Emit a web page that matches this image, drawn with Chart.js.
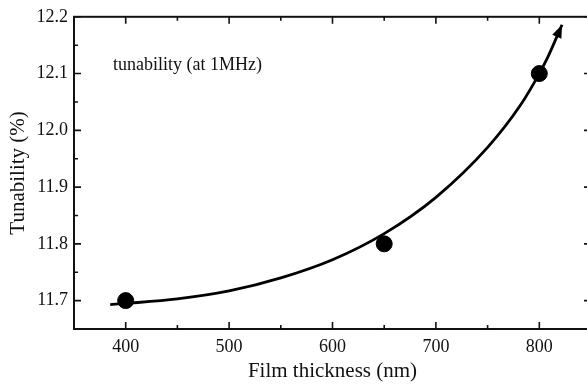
<!DOCTYPE html>
<html lang="en">
<head>
  <meta charset="UTF-8" />
  <title>Tunability vs film thickness</title>
  <script src="https://cdn.jsdelivr.net/npm/chart.js"></script>
  <style>
    html, body {
      margin: 0;
      padding: 0;
      background: #fff;
      overflow: hidden;
    }
    .wrap {
      width: 600px;
      height: 384px;
    }
  </style>
</head>
<body>
  <div class="wrap">
    <canvas id="tunChart" width="600" height="384"></canvas>
  </div>

  <script>
    // measured points
    const thickness = [400, 650, 800];
    const tunability = [11.7, 11.8, 12.1];

    // fitted curve (last point = arrow tip)
    const fitX = [385, 400, 450, 500, 550, 600, 650, 700, 750, 782, 800, 808, 822];
    const fitY = [11.693, 11.695, 11.703, 11.717, 11.740, 11.772, 11.818, 11.882, 11.970, 12.045, 12.1, 12.128, 12.186];

    const xTicks = [400, 500, 600, 700, 800];
    const xMinor = [450, 550, 650, 750];
    const yTicks = [11.7, 11.8, 11.9, 12.0, 12.1, 12.2];
    const yMinor = [11.75, 11.85, 11.95, 12.05, 12.15];

    const serif = "'Liberation Serif', 'DejaVu Serif', serif";

    // frame with inward ticks on all four sides, plus the arrow head
    const framePlugin = {
      id: 'frame',
      afterDatasetsDraw(chart) {
        const { ctx, chartArea: a, scales } = chart;
        const xs = scales.x, ys = scales.y;
        ctx.save();
        ctx.strokeStyle = '#111';
        ctx.lineWidth = 2;
        ctx.strokeRect(a.left, a.top, a.right - a.left, a.bottom - a.top);

        ctx.lineWidth = 1.6;
        ctx.beginPath();
        const xt = (v, len) => {
          const px = xs.getPixelForValue(v);
          ctx.moveTo(px, a.bottom); ctx.lineTo(px, a.bottom - len);
          ctx.moveTo(px, a.top); ctx.lineTo(px, a.top + len);
        };
        const yt = (v, len) => {
          const py = ys.getPixelForValue(v);
          ctx.moveTo(a.left, py); ctx.lineTo(a.left + len, py);
          ctx.moveTo(a.right, py); ctx.lineTo(a.right - len, py);
        };
        xTicks.forEach(v => xt(v, 7));
        xMinor.forEach(v => xt(v, 4));
        yTicks.forEach(v => yt(v, 7));
        yMinor.forEach(v => yt(v, 4));
        ctx.stroke();

        // arrow head at the end of the fit curve
        const n = fitX.length;
        const tx = xs.getPixelForValue(fitX[n - 1]), ty = ys.getPixelForValue(fitY[n - 1]);
        const bx = xs.getPixelForValue(fitX[n - 2]), by = ys.getPixelForValue(fitY[n - 2]);
        const ang = Math.atan2(ty - by, tx - bx);
        const len = 13, half = 5;
        ctx.fillStyle = '#000';
        ctx.beginPath();
        ctx.moveTo(tx, ty);
        ctx.lineTo(tx - len * Math.cos(ang) + half * Math.sin(ang), ty - len * Math.sin(ang) - half * Math.cos(ang));
        ctx.lineTo(tx - len * Math.cos(ang) - half * Math.sin(ang), ty - len * Math.sin(ang) + half * Math.cos(ang));
        ctx.closePath();
        ctx.fill();

        // annotation text
        ctx.font = '18px ' + serif;
        ctx.fillStyle = '#111';
        ctx.textBaseline = 'alphabetic';
        ctx.fillText('tunability (at 1MHz)', a.left + 39, 70);
        ctx.restore();
      }
    };

    const ctx = document.getElementById('tunChart').getContext('2d');

    new Chart(ctx, {
      type: 'scatter',
      data: {
        datasets: [
          {
            label: 'fit',
            data: fitX.map((x, i) => ({ x: x, y: fitY[i] })),
            showLine: true,
            borderColor: '#000',
            borderWidth: 2.8,
            pointRadius: 0,
            cubicInterpolationMode: 'monotone',
            order: 2
          },
          {
            label: 'tunability',
            data: thickness.map((x, i) => ({ x: x, y: tunability[i] })),
            backgroundColor: '#000',
            borderColor: '#000',
            pointRadius: 8,
            order: 1
          }
        ]
      },
      options: {
        responsive: false,
        animation: false,
        layout: { padding: { top: 16, right: 9, left: 0, bottom: 0 } },
        plugins: {
          legend: { display: false },
          tooltip: { enabled: false }
        },
        scales: {
          x: {
            type: 'linear',
            min: 350,
            max: 850,
            grid: { display: false, drawTicks: false },
            border: { display: false },
            afterBuildTicks: s => { s.ticks = xTicks.map(v => ({ value: v })); },
            afterFit: s => { s.height = 55; },
            ticks: {
              padding: 7,
              color: '#111',
              font: { family: serif, size: 18 },
              maxRotation: 0
            },
            title: {
              display: true,
              text: 'Film thickness (nm)',
              color: '#111',
              font: { family: serif, size: 21 },
              padding: 0
            }
          },
          y: {
            min: 11.65,
            max: 12.2,
            grid: { display: false, drawTicks: false },
            border: { display: false },
            afterBuildTicks: s => { s.ticks = yTicks.map(v => ({ value: v })); },
            afterFit: s => { s.width = 74; },
            ticks: {
              padding: 6,
              color: '#111',
              font: { family: serif, size: 18 },
              callback: v => Number(v).toFixed(1)
            },
            title: {
              display: true,
              text: 'Tunability (%)',
              color: '#111',
              font: { family: serif, size: 21 },
              padding: { top: 6, bottom: 0 }
            }
          }
        }
      },
      plugins: [framePlugin]
    });
  </script>
</body>
</html>
